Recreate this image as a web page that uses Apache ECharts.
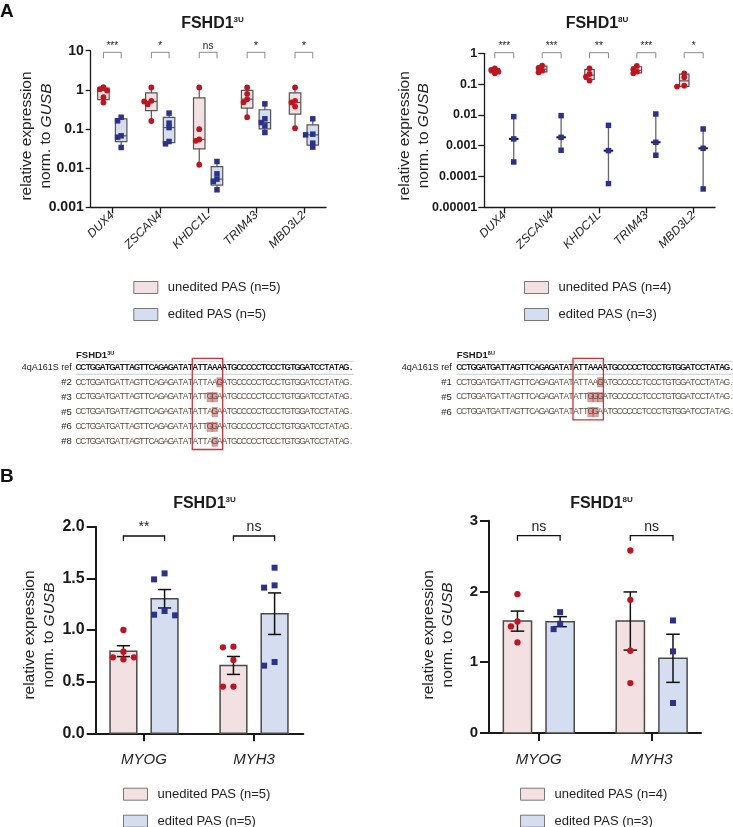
<!DOCTYPE html>
<html>
<head>
<meta charset="utf-8">
<title>FSHD1 PAS editing</title>
<script src="https://cdn.jsdelivr.net/npm/echarts@6/dist/echarts.min.js"></script>
<style>
  html, body { margin: 0; padding: 0; background: #fff; }
  #chart { width: 733px; height: 827px; }
</style>
</head>
<body>
<div id="chart"></div>
<script>
// ---- data ----
const genesA = ['DUX4', 'ZSCAN4', 'KHDC1L', 'TRIM43', 'MBD3L2'];
const a3uUnedited = [
  [1.17, 1.04, 0.96, 0.65, 0.475],
  [1.15, 0.524, 0.504, 0.43, 0.16],
  [1.15, 0.099, 0.054, 0.05, 0.0122],
  [1.15, 0.79, 0.578, 0.484, 0.2],
  [1.15, 0.524, 0.475, 0.375, 0.105]
];
const a3uEdited = [
  [0.2, 0.162, 0.067, 0.0618, 0.0337],
  [0.254, 0.141, 0.109, 0.048, 0.0418],
  [0.0148, 0.00716, 0.00525, 0.00457, 0.0028],
  [0.439, 0.182, 0.146, 0.1206, 0.0814],
  [0.182, 0.0738, 0.0708, 0.0435, 0.0344]
];
const a8uUnedited = [
  [0.326, 0.288, 0.254, 0.224],
  [0.398, 0.334, 0.273, 0.241],
  [0.326, 0.213, 0.175, 0.13],
  [0.388, 0.302, 0.254, 0.224],
  [0.224, 0.166, 0.0891, 0.083]
];
const a8uEdited = [
  [0.00879, 0.00166, 0.000296],
  [0.00947, 0.00187, 0.00071],
  [0.00459, 0.00069, 0.0000589],
  [0.0107, 0.00129, 0.00049],
  [0.00349, 0.000824, 0.0000394]
];
const sigA3u = ['***', '*', 'ns', '*', '*'];
const sigA8u = ['***', '***', '**', '***', '*'];

const genesB = ['MYOG', 'MYH3'];
const b3uUnedited = [[1.0, 0.79, 0.735, 0.735, 0.716], [0.839, 0.832, 0.71, 0.452, 0.452]];
const b3uEdited = [[1.548, 1.49, 1.184, 1.148, 1.142], [1.603, 1.432, 1.41, 0.69, 0.655]];
const b8uUnedited = [[1.962, 1.576, 1.506, 1.28], [2.579, 1.882, 1.162, 0.706]];
const b8uEdited = [[1.708, 1.544, 1.468], [1.59, 1.153, 0.424]];
const sigB3u = ['**', 'ns'];
const sigB8u = ['ns', 'ns'];

const names3u = ['unedited PAS (n=5)', 'edited PAS (n=5)'];
const names8u = ['unedited PAS (n=4)', 'edited PAS (n=3)'];

// sequence alignment
const seqBefore = 'CCTGGATGATTAGTTCAGAGATAT';
const pasRef = 'ATTAAA';
const seqAfter = 'ATGCCCCCTCCCTGTGGATCCTATAG.';
const clones3u = ['#2', '#3', '#5', '#6', '#8'];
const pas3u = ['ATTAAG', 'ATTGGA', 'ATTAGA', 'ATTGGA', 'ATTAGA'];
const clones8u = ['#1', '#5', '#6'];
const pas8u = ['ATTAAG', 'ATTGGG', 'ATTGGA'];

// ---- styles ----
const FONT = "'Liberation Sans', Arial, sans-serif";
const RED = '#c1141f', BLUE = '#2d318e', PINK = '#f3e0e2', LBLUE = '#d4def0';
const EDGE = '#555555', AX = '#1a1a1a';

// ---- helpers ----
function quantile(s, p) {
  const pos = p * (s.length + 1) - 1;
  if (pos <= 0) return s[0];
  if (pos >= s.length - 1) return s[s.length - 1];
  const lo = Math.floor(pos);
  return s[lo] + (pos - lo) * (s[lo + 1] - s[lo]);
}
function boxStats(v) {
  const s = v.slice().sort((a, b) => a - b);
  return [s[0], quantile(s, 0.25), quantile(s, 0.5), quantile(s, 0.75), s[s.length - 1]];
}
function meanSem(v) {
  const n = v.length, m = v.reduce((a, b) => a + b, 0) / n;
  const sd = Math.sqrt(v.reduce((a, b) => a + (b - m) * (b - m), 0) / (n - 1));
  return [m, sd / Math.sqrt(n)];
}
function logLabel(v) {
  const e = Math.round(Math.log10(v));
  return e >= 0 ? String(Math.pow(10, e)) : '0.' + '0'.repeat(-e - 1) + '1';
}
const seg = (x1, y1, x2, y2, stroke, lw) =>
  ({ type: 'line', shape: { x1, y1, x2, y2 }, style: { stroke, lineWidth: lw } });

function boxRenderer(off, w, fill, rangeOnly) {
  return function (params, api) {
    const i = api.value(0);
    const mn = api.value(1), q1 = api.value(2), md = api.value(3), q3 = api.value(4), mx = api.value(5);
    const y = v => api.coord([i + off, v])[1];
    const xc = api.coord([i + off, md])[0];
    const xl = api.coord([i + off - w / 2, md])[0];
    const xr = api.coord([i + off + w / 2, md])[0];
    const ch = [];
    if (rangeOnly) {
      ch.push(seg(xc, y(mx), xc, y(mn), '#666', 1.3));
      ch.push(seg(xl, y(md), xr, y(md), '#111', 2));
    } else {
      ch.push(seg(xc, y(mx), xc, y(mn), EDGE, 1.2));
      ch.push({ type: 'rect', shape: { x: xl, y: y(q3), width: xr - xl, height: y(q1) - y(q3) },
        style: { fill, stroke: EDGE, lineWidth: 1.2 } });
      ch.push(seg(xl, y(md), xr, y(md), EDGE, 1.2));
    }
    return { type: 'group', children: ch };
  };
}

function pointsRenderer(n, off, symbol, color, size, step, minDist) {
  return function (params, api) {
    const i = api.value(0);
    const pts = [];
    for (let k = 1; k <= n; k++) pts.push(api.coord([i + off, api.value(k)]));
    const order = pts.map((p, k) => k).sort((a, b) => pts[a][1] - pts[b][1]);
    const placed = [];
    order.forEach(k => {
      const x0 = pts[k][0], y0 = pts[k][1];
      let x = x0;
      for (const c of [0, -1, 1, -2, 2, -3, 3]) {
        const cx = x0 + c * step;
        if (placed.every(q => Math.hypot(q[0] - cx, q[1] - y0) >= minDist)) { x = cx; break; }
      }
      placed.push([x, y0]);
    });
    const ch = placed.map(([x, y]) => symbol === 'circle'
      ? { type: 'circle', shape: { cx: x, cy: y, r: size / 2 }, style: { fill: color } }
      : { type: 'rect', shape: { x: x - size / 2, y: y - size / 2, width: size, height: size }, style: { fill: color } });
    return { type: 'group', children: ch };
  };
}

function barRenderer(off, w, fill, cap) {
  return function (params, api) {
    const i = api.value(0), m = api.value(1), e = api.value(2);
    const p0 = api.coord([i + off - w / 2, 0]);
    const p1 = api.coord([i + off + w / 2, m]);
    const xc = api.coord([i + off, m])[0];
    const yt = api.coord([i + off, m + e])[1], yb = api.coord([i + off, m - e])[1];
    const c = api.coord([i + off + cap / 2, m])[0] - xc;
    return { type: 'group', children: [
      { type: 'rect', shape: { x: p0[0], y: p1[1], width: p1[0] - p0[0], height: p0[1] - p1[1] },
        style: { fill, stroke: '#4a4a4a', lineWidth: 1.5 } },
      seg(xc, yt, xc, yb, '#111', 1.5),
      seg(xc - c, yt, xc + c, yt, '#111', 1.5),
      seg(xc - c, yb, xc + c, yb, '#111', 1.5)
    ] };
  };
}

function bracketRenderer(labels, off, yRef, dyTop, leg, color, lw, fs) {
  return function (params, api) {
    const i = api.value(0);
    const x1 = api.coord([i - off, yRef])[0], x2 = api.coord([i + off, yRef])[0];
    const yt = params.coordSys.y + dyTop;
    return { type: 'group', children: [
      { type: 'polyline', shape: { points: [[x1, yt + leg], [x1, yt], [x2, yt], [x2, yt + leg]] },
        style: { stroke: color, lineWidth: lw, fill: null } },
      { type: 'text', x: (x1 + x2) / 2, y: yt - 1.5,
        style: { text: labels[i], font: fs + 'px ' + FONT, fill: '#222',
          textAlign: 'center', textVerticalAlign: 'bottom', align: 'center', verticalAlign: 'bottom' } }
    ] };
  };
}

// ---- axes ----
function xAxisFor(gi, min, max, names, o) {
  const ticks = names.map((_, i) => i);
  return {
    type: 'value', gridIndex: gi, min, max,
    splitLine: { show: false },
    axisLine: { show: true, onZero: false, lineStyle: { color: AX, width: o.lw } },
    axisTick: { show: true, customValues: ticks, length: o.tick, lineStyle: { color: AX, width: o.lw } },
    axisLabel: { customValues: ticks, formatter: v => names[Math.round(v)], rotate: o.rotate || 0,
      margin: o.margin, color: '#222', fontFamily: FONT, fontStyle: 'italic', fontSize: o.fs }
  };
}
function yAxisFor(gi, o) {
  const base = {
    gridIndex: gi, min: o.min, max: o.max,
    splitLine: { show: false },
    axisLine: { show: true, onZero: false, lineStyle: { color: AX, width: o.lw } },
    axisTick: { show: true, length: o.tick, lineStyle: { color: AX, width: o.lw } },
    axisLabel: { formatter: o.fmt, margin: o.margin, color: AX, fontFamily: FONT, fontWeight: 'bold', fontSize: o.fs },
    name: 'relative expression\nnorm. to {i|GUSB}',
    nameLocation: 'middle', nameRotate: 90, nameGap: o.nameGap, nameMoveOverlap: false,
    nameTextStyle: { fontFamily: FONT, fontSize: 15.5, color: '#222', lineHeight: 19,
      padding: [0, o.shift * 2, 0, 0],
      rich: { i: { fontFamily: FONT, fontSize: 15.5, fontStyle: 'italic', color: '#222', lineHeight: 19 } } }
  };
  if (o.log) { base.type = 'log'; base.logBase = 10; } else { base.type = 'value'; base.interval = o.interval; }
  return base;
}

// ---- series builders ----
function boxPanel(gi, un, ed, sig, names, c) {
  const n1 = un[0].length, n2 = ed[0].length;
  return [
    { type: 'custom', name: names[0], xAxisIndex: gi, yAxisIndex: gi, z: 2, itemStyle: { color: PINK },
      data: un.map((v, i) => [i, ...boxStats(v)]), renderItem: boxRenderer(-c.off, c.boxW, PINK, false) },
    { type: 'custom', name: names[1], xAxisIndex: gi, yAxisIndex: gi, z: 2, itemStyle: { color: LBLUE },
      data: ed.map((v, i) => [i, ...boxStats(v)]), renderItem: boxRenderer(c.off, c.boxW, LBLUE, c.edRange) },
    { type: 'custom', xAxisIndex: gi, yAxisIndex: gi, z: 3,
      data: un.map((v, i) => [i, ...v]), renderItem: pointsRenderer(n1, -c.off, 'circle', RED, c.size, c.step, c.minDist) },
    { type: 'custom', xAxisIndex: gi, yAxisIndex: gi, z: 3,
      data: ed.map((v, i) => [i, ...v]), renderItem: pointsRenderer(n2, c.off, 'square', BLUE, c.size - 0.3, c.step, c.minDist) },
    { type: 'custom', xAxisIndex: gi, yAxisIndex: gi, z: 4,
      data: sig.map((s, i) => [i, 1]), renderItem: bracketRenderer(sig, c.off, 1, c.dyTop, c.leg, '#8a8a8a', 1, c.sigFs) }
  ];
}
function barPanel(gi, un, ed, sig, names, c) {
  const n1 = un[0].length, n2 = ed[0].length;
  return [
    { type: 'custom', name: names[0], xAxisIndex: gi, yAxisIndex: gi, z: 2, itemStyle: { color: PINK },
      data: un.map((v, i) => [i, ...meanSem(v)]), renderItem: barRenderer(-c.off, c.w, PINK, c.cap) },
    { type: 'custom', name: names[1], xAxisIndex: gi, yAxisIndex: gi, z: 2, itemStyle: { color: LBLUE },
      data: ed.map((v, i) => [i, ...meanSem(v)]), renderItem: barRenderer(c.off, c.w, LBLUE, c.cap) },
    { type: 'custom', xAxisIndex: gi, yAxisIndex: gi, z: 3,
      data: un.map((v, i) => [i, ...v]), renderItem: pointsRenderer(n1, -c.off, 'circle', RED, 6.3, c.step, 7) },
    { type: 'custom', xAxisIndex: gi, yAxisIndex: gi, z: 3,
      data: ed.map((v, i) => [i, ...v]), renderItem: pointsRenderer(n2, c.off, 'square', BLUE, 6, c.step, 7) },
    { type: 'custom', xAxisIndex: gi, yAxisIndex: gi, z: 4,
      data: sig.map((s, i) => [i, 1]), renderItem: bracketRenderer(sig, c.off, 1, c.dyTop, 5, '#111', 1.3, 14) }
  ];
}

function legendAt(left, top, names) {
  return {
    left, top, orient: 'vertical', icon: 'rect', itemWidth: 24, itemHeight: 12, itemGap: 14,
    padding: 0, selectedMode: false, height: 60,
    textStyle: { fontFamily: FONT, fontSize: 13, color: '#222', lineHeight: 12, padding: [0, 0, 0, 5] },
    data: [
      { name: names[0], itemStyle: { color: PINK, borderColor: '#777', borderWidth: 1 } },
      { name: names[1], itemStyle: { color: LBLUE, borderColor: '#777', borderWidth: 1 } }
    ]
  };
}

// ---- text elements (titles, panel letters, alignment) ----
function titleText(x, y, sup, size) {
  return { type: 'text', x, y, style: {
    text: 'FSHD1{s|' + sup + '}', font: 'bold ' + size + 'px ' + FONT, fill: '#1a1a1a',
    textAlign: 'center', textVerticalAlign: 'middle', align: 'center', verticalAlign: 'middle',
    rich: { s: { fontSize: Math.round(size * 0.52), fontWeight: 'bold', fontFamily: FONT, fill: '#1a1a1a', verticalAlign: 'top' } }
  } };
}
function plainText(x, y, text, font, fill, align) {
  return { type: 'text', x, y, style: { text, font, fill, textAlign: align, align,
    textVerticalAlign: 'middle', verticalAlign: 'middle' } };
}
function alignment(x0, labelX, sup, clones, pas) {
  const cw = 4.87, els = [];
  const yRef = 367.3, rows = clones.map((c, k) => 382.3 + k * 14.85);
  const full = seqBefore + pasRef + seqAfter;
  const xEnd = Math.min(x0 + full.length * cw, 733);
  els.push({ type: 'text', x: x0, y: 355, style: {
    text: 'FSHD1{s|' + sup + '}', font: 'bold 9.5px ' + FONT, fill: '#1a1a1a',
    textVerticalAlign: 'middle', verticalAlign: 'middle',
    rich: { s: { fontSize: 5.5, fontWeight: 'bold', fontFamily: FONT, fill: '#1a1a1a', verticalAlign: 'top' } } } });
  els.push({ type: 'line', shape: { x1: x0, y1: 361.3, x2: xEnd, y2: 361.3 }, style: { stroke: '#c8c8c8', lineWidth: 0.8 } });
  els.push({ type: 'line', shape: { x1: x0, y1: 374.3, x2: xEnd, y2: 374.3 }, style: { stroke: '#bdbdbd', lineWidth: 0.8 } });
  els.push(plainText(labelX, yRef, '4qA161S ref', '9px ' + FONT, '#222', 'right'));
  const drawSeq = (seq, y, font, fill) => {
    for (let i = 0; i < seq.length; i++) {
      const x = x0 + (i + 0.5) * cw;
      if (x > 736) break;
      els.push(plainText(x, y, seq[i], font, fill, 'center'));
    }
  };
  drawSeq(full, yRef, 'bold 8.3px ' + FONT, '#1a1a1a');
  clones.forEach((c, k) => {
    const y = rows[k], p = pas[k];
    for (let j = 0; j < p.length; j++) {
      if (p[j] !== pasRef[j]) {
        els.push({ type: 'rect', shape: { x: x0 + (seqBefore.length + j) * cw - 0.4, y: y - 4.6, width: cw + 0.8, height: 9.2 },
          style: { fill: 'rgba(206,96,98,0.6)', stroke: 'rgba(190,70,72,0.6)', lineWidth: 0.6 } });
      }
    }
    els.push(plainText(labelX, y, c, '9.5px ' + FONT, '#222', 'right'));
    drawSeq(seqBefore + p + seqAfter, y, '8.3px ' + FONT, '#5a4b3e');
  });
  const bx = x0 + seqBefore.length * cw - 0.6;
  els.push({ type: 'rect', shape: { x: bx, y: 358.3, width: pasRef.length * cw + 1.2, height: rows[rows.length - 1] + 7.8 - 358.3 },
    style: { fill: null, stroke: '#c9343a', lineWidth: 1.3 } });
  return els;
}

const graphics = [
  plainText(0, 11.8, 'A', 'bold 19px ' + FONT, '#111', 'left'),
  plainText(0, 476.5, 'B', 'bold 19px ' + FONT, '#111', 'left'),
  titleText(212.5, 24, '3U', 16),
  titleText(597, 24, '8U', 16),
  titleText(204.5, 503.5, '3U', 16),
  titleText(601.5, 503.5, '8U', 16),
  ...alignment(76, 71.7, '3U', clones3u, pas3u),
  ...alignment(456.7, 451.7, '8U', clones8u, pas8u)
];

// ---- chart ----
const chart = echarts.init(document.getElementById('chart'));
chart.setOption({
  animation: false,
  backgroundColor: '#fff',
  grid: [
    { left: 90.7, top: 50.7, width: 235.3, height: 156.6, containLabel: false, outerBoundsMode: 'none' },
    { left: 484.3, top: 53.3, width: 230.7, height: 154, containLabel: false, outerBoundsMode: 'none' },
    { left: 95.7, top: 526.7, width: 207.6, height: 206.6, containLabel: false, outerBoundsMode: 'none' },
    { left: 489, top: 520.7, width: 212, height: 212.3, containLabel: false, outerBoundsMode: 'none' }
  ],
  xAxis: [
    xAxisFor(0, -0.451, 4.461, genesA, { lw: 1.3, tick: 6, rotate: 45, margin: 6, fs: 12 }),
    xAxisFor(1, -0.422, 4.45, genesA, { lw: 1.3, tick: 6, rotate: 45, margin: 6, fs: 12 }),
    xAxisFor(2, -0.439, 1.448, genesB, { lw: 2, tick: 8, margin: 19, fs: 15 }),
    xAxisFor(3, -0.441, 1.437, genesB, { lw: 2, tick: 8, margin: 19, fs: 15 })
  ],
  yAxis: [
    yAxisFor(0, { log: true, min: 0.001, max: 10, lw: 1.3, tick: 5, margin: 7, fs: 14, fmt: logLabel, nameGap: 35, shift: 7 }),
    yAxisFor(1, { log: true, min: 0.00001, max: 1, lw: 1.3, tick: 6, margin: 7, fs: 12.5, fmt: logLabel, nameGap: 51, shift: 5.5 }),
    yAxisFor(2, { min: 0, max: 2, interval: 0.5, lw: 2, tick: 9, margin: 11, fs: 16, fmt: v => v.toFixed(1), nameGap: 37, shift: 5 }),
    yAxisFor(3, { min: 0, max: 3, interval: 1, lw: 2, tick: 9, margin: 11, fs: 15, fmt: v => String(v), nameGap: 32, shift: 8 })
  ],
  legend: [
    legendAt(133.3, 281, names3u),
    legendAt(524, 281, names8u),
    legendAt(123, 787.7, names3u),
    legendAt(520, 787.7, names8u)
  ],
  series: [
    ...boxPanel(0, a3uUnedited, a3uEdited, sigA3u, names3u,
      { off: 0.185, boxW: 0.24, size: 5.8, step: 3.6, minDist: 3.8, edRange: false, dyTop: 1.6, leg: 6, sigFs: 10 }),
    ...boxPanel(1, a8uUnedited, a8uEdited, sigA8u, names8u,
      { off: 0.2, boxW: 0.2, size: 5.8, step: 3.6, minDist: 3.8, edRange: true, dyTop: -0.6, leg: 5.6, sigFs: 10 }),
    ...barPanel(2, b3uUnedited, b3uEdited, sigB3u, names3u,
      { off: 0.187, w: 0.243, cap: 0.12, step: 10.5, dyTop: 9.3 }),
    ...barPanel(3, b8uUnedited, b8uEdited, sigB8u, names8u,
      { off: 0.189, w: 0.25, cap: 0.12, step: 6.5, dyTop: 15 })
  ],
  graphic: { elements: graphics }
});
</script>
</body>
</html>
